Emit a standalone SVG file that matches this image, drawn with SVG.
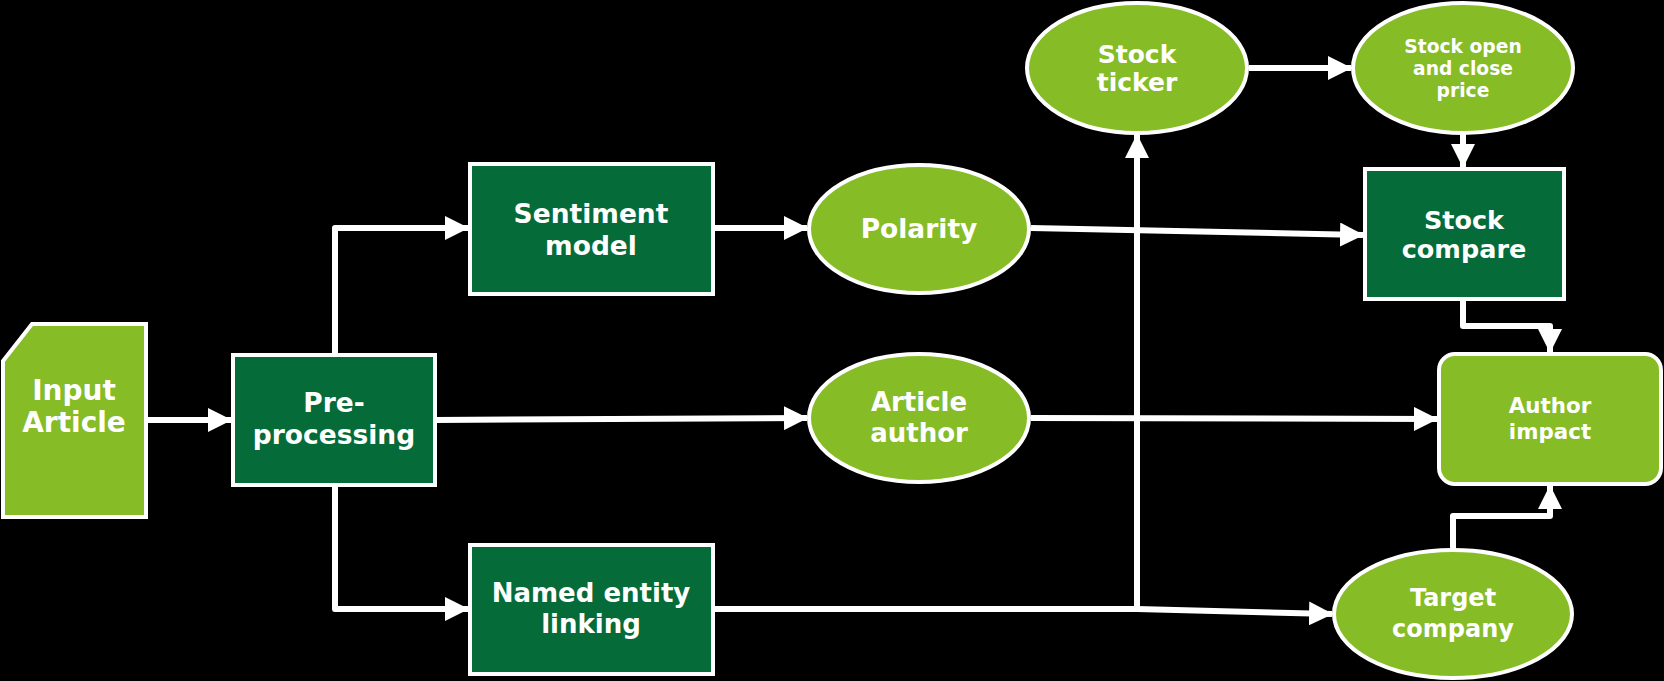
<svg xmlns="http://www.w3.org/2000/svg" width="1664" height="681" viewBox="0 0 1664 681">
<style>
.bg{fill:#000}
.lg{fill:#86BC25;stroke:#fff;stroke-width:4}
.dg{fill:#056B39;stroke:#fff;stroke-width:4}
.t{font-family:"DejaVu Sans","Liberation Sans",sans-serif;font-weight:bold;fill:#fff;text-anchor:middle}
.c{fill:none;stroke:#fff;stroke-width:6;stroke-linejoin:round}
</style>
<defs>
<marker id="ah" markerUnits="userSpaceOnUse" markerWidth="24" markerHeight="24" refX="23" refY="12" orient="auto" viewBox="0 0 24 24">
<path d="M0,0 L24,12 L0,24 Z" fill="#fff"/>
</marker>
</defs>
<rect class="bg" x="0" y="0" width="1664" height="681"/>
<g id="connectors">
<line class="c" x1="146" y1="420" x2="231" y2="420" marker-end="url(#ah)"/>
<polyline class="c" points="335,355 335,228 468,228" marker-end="url(#ah)"/>
<polyline class="c" points="335,483 335,609 468,609" marker-end="url(#ah)"/>
<line class="c" x1="435" y1="420" x2="807" y2="418" marker-end="url(#ah)"/>
<line class="c" x1="713" y1="228" x2="807" y2="228" marker-end="url(#ah)"/>
<line class="c" x1="1031" y1="228" x2="1363" y2="235" marker-end="url(#ah)"/>
<line class="c" x1="1031" y1="418" x2="1437" y2="419" marker-end="url(#ah)"/>
<polyline class="c" points="713,609 1137,609 1137,135" marker-end="url(#ah)"/>
<line class="c" x1="1137" y1="609" x2="1332" y2="614" marker-end="url(#ah)"/>
<line class="c" x1="1249" y1="68" x2="1351" y2="68" marker-end="url(#ah)"/>
<line class="c" x1="1463" y1="133" x2="1463" y2="167" marker-end="url(#ah)"/>
<polyline class="c" points="1463,299 1463,326 1550,326 1550,352" marker-end="url(#ah)"/>
<polyline class="c" points="1453,550 1453,516 1550,516 1550,486" marker-end="url(#ah)"/>
</g>
<g id="input-article">
<path class="lg" d="M3,361 L32,324 L146,324 L146,517 L3,517 Z"/>
<text class="t" font-size="28" x="74" y="400">Input</text>
<text class="t" font-size="28" x="74" y="432">Article</text>
</g>
<g id="pre-processing">
<rect class="dg" x="233" y="355" width="202" height="130"/>
<text class="t" font-size="26.5" x="334" y="412">Pre-</text>
<text class="t" font-size="26.5" x="334" y="444">processing</text>
</g>
<g id="sentiment-model">
<rect class="dg" x="470" y="164" width="243" height="130"/>
<text class="t" font-size="26.5" x="591" y="223">Sentiment</text>
<text class="t" font-size="26.5" x="591" y="255">model</text>
</g>
<g id="named-entity-linking">
<rect class="dg" x="470" y="545" width="243" height="129"/>
<text class="t" font-size="26" x="591" y="602">Named entity</text>
<text class="t" font-size="26" x="591" y="633">linking</text>
</g>
<g id="polarity">
<ellipse class="lg" cx="919" cy="229" rx="110" ry="64"/>
<text class="t" font-size="26.5" x="919" y="238">Polarity</text>
</g>
<g id="article-author">
<ellipse class="lg" cx="919" cy="418" rx="110" ry="64"/>
<text class="t" font-size="26" x="919" y="411">Article</text>
<text class="t" font-size="26" x="919" y="442">author</text>
</g>
<g id="stock-ticker">
<ellipse class="lg" cx="1137" cy="68" rx="110" ry="65"/>
<text class="t" font-size="25" x="1137" y="63">Stock</text>
<text class="t" font-size="25" x="1137" y="91">ticker</text>
</g>
<g id="stock-price">
<ellipse class="lg" cx="1463" cy="68" rx="110" ry="65"/>
<text class="t" font-size="18.7" x="1463" y="53">Stock open</text>
<text class="t" font-size="18.7" x="1463" y="75">and close</text>
<text class="t" font-size="18.7" x="1463" y="97">price</text>
</g>
<g id="stock-compare">
<rect class="dg" x="1365" y="169" width="199" height="130"/>
<text class="t" font-size="25.5" x="1464" y="229">Stock</text>
<text class="t" font-size="25.5" x="1464" y="258">compare</text>
</g>
<g id="author-impact">
<rect class="lg" x="1439" y="354" width="222" height="130" rx="16"/>
<text class="t" font-size="21.4" x="1550" y="413">Author</text>
<text class="t" font-size="21.4" x="1550" y="439">impact</text>
</g>
<g id="target-company">
<ellipse class="lg" cx="1453" cy="614" rx="119" ry="64"/>
<text class="t" font-size="24" x="1453" y="606">Target</text>
<text class="t" font-size="24" x="1453" y="637">company</text>
</g>
</svg>
